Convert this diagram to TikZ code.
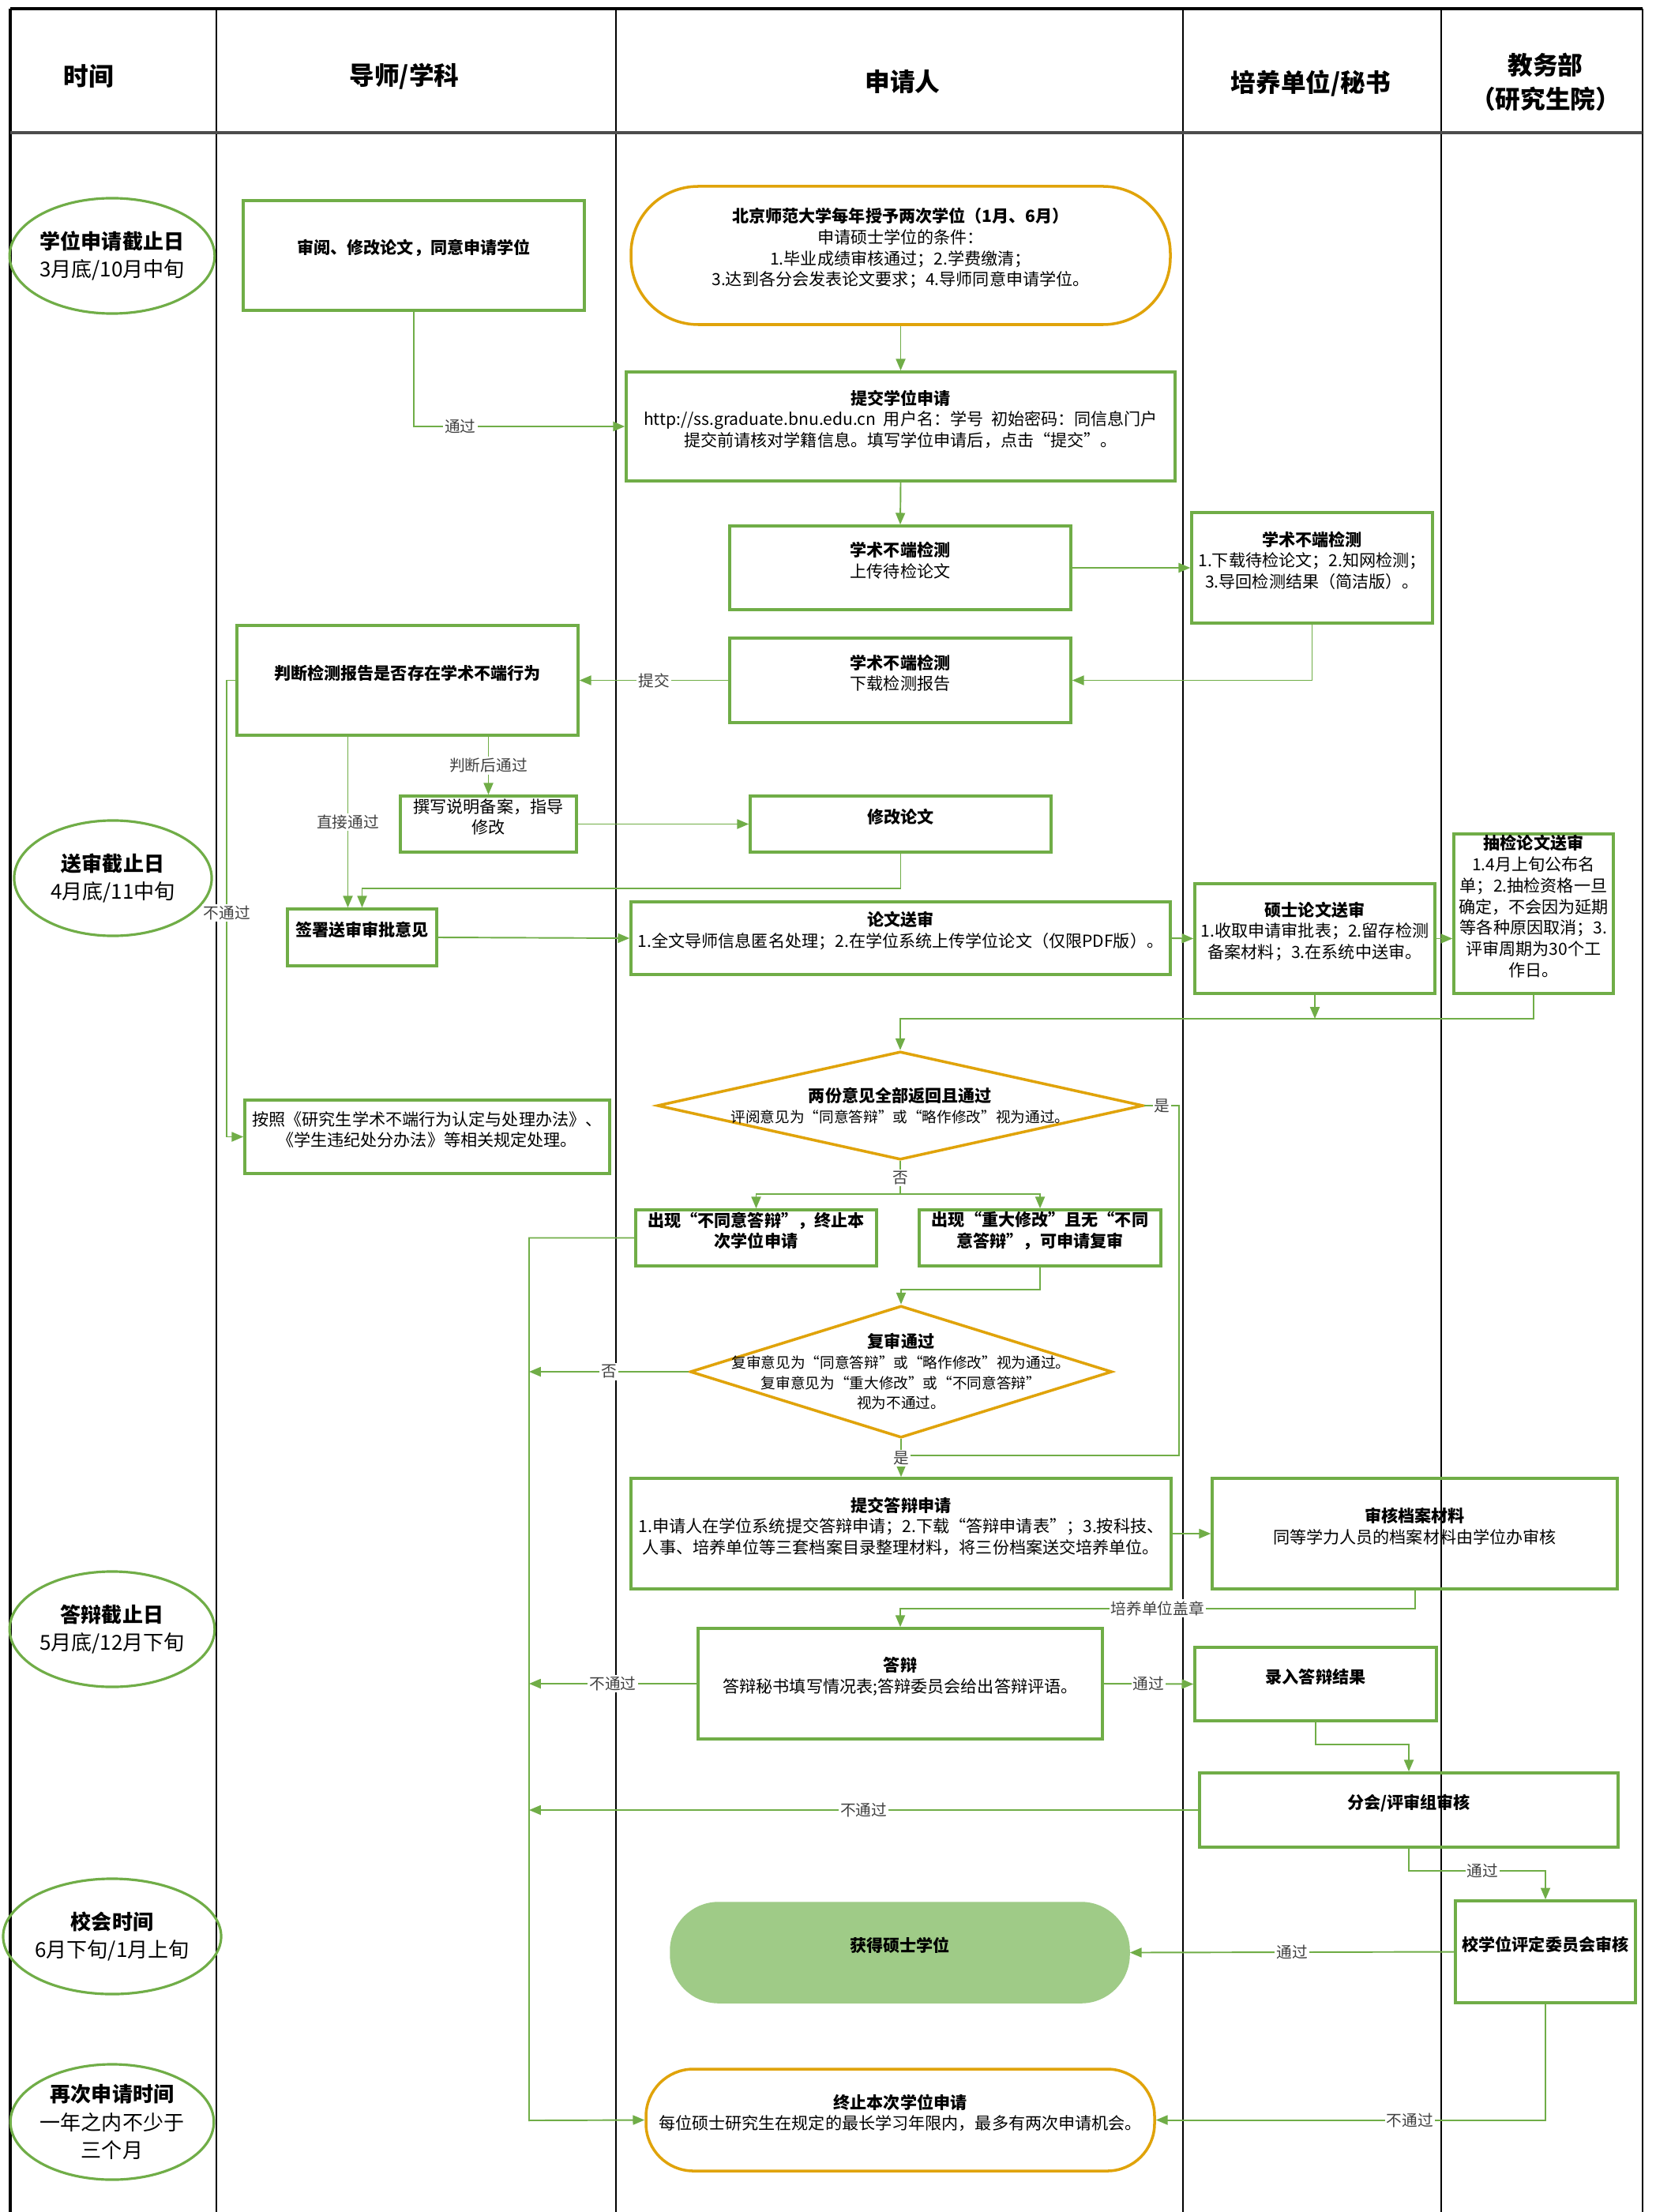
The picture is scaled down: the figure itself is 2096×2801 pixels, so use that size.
\documentclass[tikz,border=0pt]{standalone}
\usepackage{fontspec}
\setmainfont{Noto Sans CJK SC}
\usepackage{tikz}
\usetikzlibrary{shapes.geometric, arrows.meta, positioning, fit, calc}
\definecolor{grn}{HTML}{70AD47}
\definecolor{gold}{HTML}{E0A30A}
\definecolor{leaf}{HTML}{9FCB87}
\newcommand{\bodyfont}{\fontsize{6pt}{7.6pt}\selectfont}
\newcommand{\smallfont}{\fontsize{5.3pt}{7.3pt}\selectfont}
\newcommand{\headfont}{\fontsize{9pt}{12pt}\selectfont}
\newcommand{\timefont}{\fontsize{7.4pt}{10pt}\selectfont}
\newcommand{\lblfont}{\fontsize{5.6pt}{7pt}\selectfont}

\begin{document}
\begin{tikzpicture}[
    x=0.01cm, y=-0.01cm,
    lane/.style={draw=black, line width=0.4pt},
    frame/.style={draw=black, line width=1.1pt},
    head/.style={font=\headfont\bfseries, align=center},
    timeo/.style={ellipse, draw=grn, line width=0.9pt, inner sep=0pt, minimum width=2.5cm, minimum height=1.46cm, align=center, font=\timefont},
    box/.style={rectangle, draw=grn, line width=1pt, inner sep=0pt, align=center, font=\bodyfont},
    bbox/.style={box, font=\bodyfont\bfseries},
    term/.style={box, draw=gold, rounded corners=0.6cm},
    dia/.style={diamond, draw=gold, line width=1pt, inner sep=0pt},
    txt/.style={align=center, font=\smallfont},
    arr/.style={-{Triangle[length=4.2pt, width=3.4pt]}, draw=grn, line width=0.55pt},
    wire/.style={draw=grn, line width=0.55pt},
    lbl/.style={fill=white, inner sep=0.6pt, font=\lblfont, text=black!75}
]
\fill[white] (0,0) rectangle (2096,2801);
\useasboundingbox (0,0) rectangle (2096,2801);

% swimlanes
\draw[frame] (13,11) -- (2080,11);
\draw[frame] (13,11) -- (13,2801);
\draw[lane] (274,11) -- (274,2801);
\draw[lane] (780,11) -- (780,2801);
\draw[lane] (1498,11) -- (1498,2801);
\draw[lane] (1825,11) -- (1825,2801);
\draw[lane] (2080,11) -- (2080,2801);
\draw[draw=black!70, line width=1pt] (13,168) -- (2080,168);

\node[head] (htime) at (112,97) {时间};
\node[head] (htutor) at (512,97) {导师/学科};
\node[head] (happ) at (1143,104) {申请人};
\node[head] (hunit) at (1660,106) {培养单位/秘书};
\node[head] (hgrad) at (1957,104) {教务部\\（研究生院）};

% time column
\node[timeo] (t1) at (142,324) {\textbf{学位申请截止日}\\3月底/10月中旬};
\node[timeo] (t2) at (143,1112) {\textbf{送审截止日}\\4月底/11中旬};
\node[timeo] (t3) at (142,2063) {\textbf{答辩截止日}\\5月底/12月下旬};
\node[timeo] (t4) at (142,2452) {\textbf{校会时间}\\6月下旬/1月上旬};
\node[timeo] (t5) at (142,2687) {\textbf{再次申请时间}\\一年之内不少于\\三个月};

% tutor
\node[bbox, fit={(308,254) (740,393)}] (rev) {审阅、修改论文，同意申请学位};
\node[bbox, fit={(300,792) (732,931)}] (judge) {判断检测报告是否存在学术不端行为};
\node[box, fit={(507,1008) (730,1079)}] (note) {撰写说明备案，指导\\修改};
\node[bbox, fit={(364,1151) (553,1223)}] (sign) {签署送审审批意见};
\node[box, fit={(310,1393) (772,1486)}] (rule) {按照《研究生学术不端行为认定与处理办法》、\\《学生违纪处分办法》等相关规定处理。};

% applicant
\node[term, rounded corners=0.85cm, fit={(799,236) (1482,411)}] (start) {\textbf{北京师范大学每年授予两次学位（1月、6月）}\\申请硕士学位的条件：\\1.毕业成绩审核通过；2.学费缴清；\\3.达到各分会发表论文要求；4.导师同意申请学位。};
\node[box, fit={(793,471) (1488,609)}] (sub) {\textbf{提交学位申请}\\http://ss.graduate.bnu.edu.cn\ \ 用户名：学号\ \ 初始密码：同信息门户\\提交前请核对学籍信息。填写学位申请后，点击“提交”。};
\node[box, fit={(924,666) (1356,772)}] (upl) {\textbf{学术不端检测}\\上传待检论文};
\node[box, fit={(924,808) (1356,915)}] (dl) {\textbf{学术不端检测}\\下载检测报告};
\node[bbox, fit={(950,1008) (1331,1079)}] (fix) {修改论文};
\node[box, fit={(799,1142) (1482,1234)}] (send) {\textbf{论文送审}\\1.全文导师信息匿名处理；2.在学位系统上传学位论文（仅限PDF版）。};
\node[dia, minimum width=6.15cm, minimum height=1.37cm] (d1) at (1140,1400) {};
\node[txt] (d1t) at (d1) {{\bodyfont\bfseries 两份意见全部返回且通过}\\评阅意见为“同意答辩”或“略作修改”视为通过。};
\node[bbox, fit={(805,1532) (1110,1603)}] (m1) {出现“不同意答辩”，终止本\\次学位申请};
\node[bbox, fit={(1164,1532) (1470,1603)}] (m2) {出现“重大修改”且无“不同\\意答辩”，可申请复审};
\node[dia, minimum width=5.34cm, minimum height=1.67cm] (d2) at (1141,1737) {};
\node[txt] (d2t) at (d2) {{\bodyfont\bfseries 复审通过}\\复审意见为“同意答辩”或“略作修改”视为通过。\\复审意见为“重大修改”或“不同意答辩”\\视为不通过。};
\node[box, fit={(799,1872) (1483,2012)}] (dapp) {\textbf{提交答辩申请}\\1.申请人在学位系统提交答辩申请；2.下载“答辩申请表”；3.按科技、\\人事、培养单位等三套档案目录整理材料，将三份档案送交培养单位。};
\node[box, fit={(884,2062) (1396,2202)}] (def) {\textbf{答辩}\\答辩秘书填写情况表;答辩委员会给出答辩评语。};
\node[bbox, draw=leaf, fill=leaf, rounded corners=0.6cm, fit={(850,2410) (1429,2535)}] (deg) {获得硕士学位};
\node[term, fit={(818,2620) (1462,2749)}] (stop) {\textbf{终止本次学位申请}\\每位硕士研究生在规定的最长学习年限内，最多有两次申请机会。};

% unit / secretary
\node[box, fit={(1509,649) (1814,789)}] (chk) {\textbf{学术不端检测}\\1.下载待检论文；2.知网检测；\\3.导回检测结果（简洁版）。};
\node[box, fit={(1513,1119) (1817,1258)}] (revw) {\textbf{硕士论文送审}\\1.收取申请审批表；2.留存检测\\备案材料；3.在系统中送审。};
\node[box, fit={(1535,1872) (2048,2012)}] (arc) {\textbf{审核档案材料}\\同等学力人员的档案材料由学位办审核};
\node[bbox, fit={(1513,2086) (1819,2179)}] (rec) {录入答辩结果};
\node[bbox, fit={(1519,2245) (2049,2339)}] (grp) {分会/评审组审核};

% graduate school
\node[box, fit={(1841,1056) (2043,1258)}] (spot) {\textbf{抽检论文送审}\\1.4月上旬公布名\\单；2.抽检资格一旦\\确定，不会因为延期\\等各种原因取消；3.\\评审周期为30个工\\作日。};
\node[bbox, fit={(1843,2407) (2071,2536)}] (cmte) {校学位评定委员会审核};

% junctions
\coordinate (j1) at (1140,1290);
\coordinate (j2) at (1140,1843);
\coordinate (j3) at (1140,1512);
\coordinate (back) at (670,2685);
\coordinate (s1) at ($(sign.north)+(-18,0)$);

% connectors
\draw[arr] (rev.south) |- node[lbl, pos=0.61] {通过} (sub.west);
\draw[arr] (start.south) -- (sub.north);
\draw[arr] (sub.south) -- (upl.north);
\draw[arr] (upl.east) -- (chk.west);
\draw[arr] (chk.south) |- (dl.east);
\draw[arr] (dl.west) -- node[lbl] {提交} (judge.east);
\draw[arr] (judge.south -| note.north) -- node[lbl] {判断后通过} (note.north);
\draw[arr] (judge.south -| s1) -- node[lbl] {直接通过} (s1);
\draw[arr] (judge.west) -- ++(-11,0) |- node[lbl, pos=0.255] {不通过} (rule.west);
\draw[arr] (note.east) -- (fix.west);
\draw[arr] (fix.south) -- ++(0,44) -| (sign.north);
\draw[arr] (sign.east) -- (send.west);
\draw[arr] (send.east) -- (revw.west);
\draw[arr] (revw.east) -- (revw.east -| spot.west);
\draw[arr] (revw.south) -- (revw.south |- j1);
\draw[arr] (spot.south) |- (j1) -- (d1.north);
\draw[wire] (d1.east) -- node[lbl] {是} ++(44,0) |- (j2);
\draw[wire] (d1.south) -- node[lbl] {否} (j3);
\draw[arr] (j3) -| (m1.north);
\draw[arr] (j3) -| (m2.north);
\draw[arr] (m1.west) -| (back) -- (stop.west);
\draw[arr] (m2.south) -- ++(0,28) -| (d2.north);
\draw[arr] (d2.west) -- node[lbl] {否} (d2.west -| back);
\draw[arr] (d2.south) -- node[lbl] {是} (dapp.north);
\draw[arr] (dapp.east) -- (arc.west);
\draw[arr] (arc.south) -- ++(0,23) -| node[lbl, pos=0.25] {培养单位盖章} (def.north);
\draw[arr] (def.west) -- node[lbl] {不通过} (def.west -| back);
\draw[arr] (def.east) -- node[lbl] {通过} (rec.west);
\draw[arr] (rec.south) -- ++(0,28) -| (grp.north);
\draw[arr] (grp.west) -- node[lbl] {不通过} (grp.west -| back);
\draw[arr] (grp.south) -- ++(0,28) -| node[lbl, pos=0.27] {通过} (cmte.north);
\draw[arr] (cmte.west) -- node[lbl] {通过} (deg.east);
\draw[arr] (cmte.south) |- node[lbl, pos=0.674] {不通过} (stop.east);

\end{tikzpicture}
\end{document}
